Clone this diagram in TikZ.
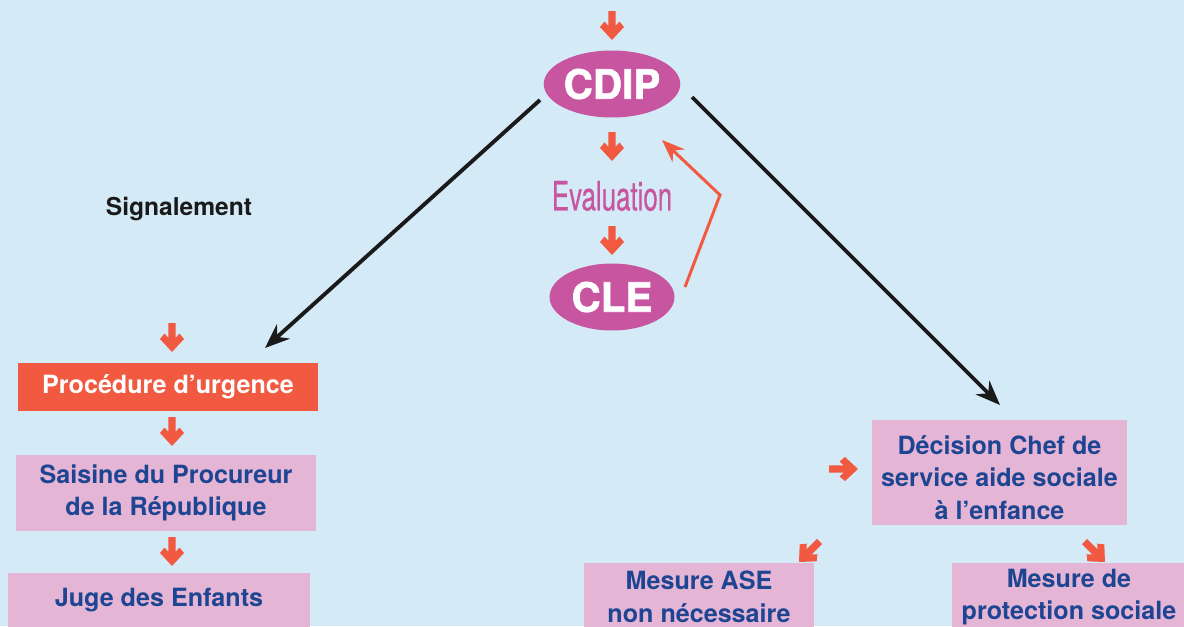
\documentclass[tikz,border=0pt]{standalone}
\usepackage{fontspec}
\setmainfont{TeX Gyre Heros}
\newfontfamily\evalfont[FakeStretch=0.64, FakeBold=0.4]{TeX Gyre Heros}
\newfontfamily\heavyfont[BoldFeatures={FakeBold=1.6}]{TeX Gyre Heros}
\usetikzlibrary{shapes.geometric,arrows.meta}

\definecolor{bgblue}{HTML}{D4EBF7}
\definecolor{cdipmag}{HTML}{C8559F}
\definecolor{flowred}{HTML}{F15A40}
\definecolor{boxpink}{HTML}{E5B5D5}
\definecolor{boxblue}{HTML}{1D4592}
\definecolor{darkline}{HTML}{1A1A1A}

\tikzset{
	pointer/.pic={
		\fill[flowred] (0,0) -- (-12,-13) -- (-7.5,-18.5) -- (-3.6,-14.2) -- (-3.6,-29)
			-- (3.6,-29) -- (3.6,-14.2) -- (7.5,-18.5) -- (12,-13) -- cycle;
	}
}

\begin{document}
\begin{tikzpicture}[x=0.02cm, y=-0.02cm,
	bubble/.style={shape=ellipse, fill=cdipmag, text=white, minimum width=2.5cm, minimum height=1.34cm, inner sep=0pt, font=\fontsize{23}{23}\selectfont\heavyfont\bfseries},
	pinkbox/.style={shape=rectangle, fill=boxpink, text=boxblue, inner sep=0pt, align=center, font=\fontsize{14.3}{18.5}\selectfont\bfseries},
	longarrow/.style={draw=darkline, line width=2.2pt, -{Stealth[length=14pt, width=11pt]}}]
	\useasboundingbox (0,0) rectangle (1184,626);
	\clip (0,0) rectangle (1184,626);
	\fill[bgblue] (0,0) rectangle (1184,626);

	\node[bubble] (cdip) at (612,84) {CDIP};
	\node[text=cdipmag, font=\fontsize{23}{23}\selectfont\evalfont] (eval) at (612,196) {Evaluation};
	\node[bubble] (cle) at (612,297) {CLE};
	\node[font=\fontsize{14}{14}\selectfont\bfseries, text=darkline] (signal) at (179,209) {Signalement};

	\node[shape=rectangle, fill=flowred, text=white, inner sep=0pt, minimum width=6cm, minimum height=0.96cm, font=\fontsize{14.3}{14.3}\selectfont\bfseries] (urgence) at (168,387) {Procédure d’urgence};
	\node[pinkbox, minimum width=6cm, minimum height=1.52cm] (saisine) at (166,493) {Saisine du Procureur\\de la République};
	\node[pinkbox, minimum width=6.04cm, minimum height=1.08cm] (juge) at (159,600) {Juge des Enfants};
	\node[pinkbox, minimum width=5.1cm, minimum height=2.1cm] (decision) at (999.5,472.5) {\rule{0pt}{16.5pt}Décision Chef de\\service aide sociale\\à l’enfance};
	\node[pinkbox, minimum width=4.6cm, minimum height=1.36cm] (nonase) at (699,597) {Mesure ASE\\non nécessaire};
	\node[pinkbox, minimum width=4.7cm, minimum height=1.36cm] (protect) at (1069,597) {Mesure de\\protection sociale};

	\coordinate (l1) at (540,100);
	\coordinate (l2) at (265,348);
	\coordinate (r1) at (692,97);
	\coordinate (r2) at (1000,405);
	\coordinate (back1) at (685,287);
	\coordinate (back2) at (720,195);
	\coordinate (back3) at (662,140);

	\draw[longarrow] (l1) -- (l2);
	\draw[longarrow] (r1) -- (r2);
	\draw[flowred, line width=1.7pt, line join=miter, -{Stealth[length=13pt, width=10pt]}] (back1) -- (back2) -- (back3);

	% small red pointers
	\pic at (612,40) {pointer};
	\pic at (612,161) {pointer};
	\pic at (612,255) {pointer};
	\pic at (172,352) {pointer};
	\pic at (172,446) {pointer};
	\pic at (172,566) {pointer};
	\pic[rotate=90] at (858,469) {pointer};
	\pic[rotate=-45] at (799,562) {pointer};
	\pic[rotate=45] at (1105,562) {pointer};
\end{tikzpicture}
\end{document}
